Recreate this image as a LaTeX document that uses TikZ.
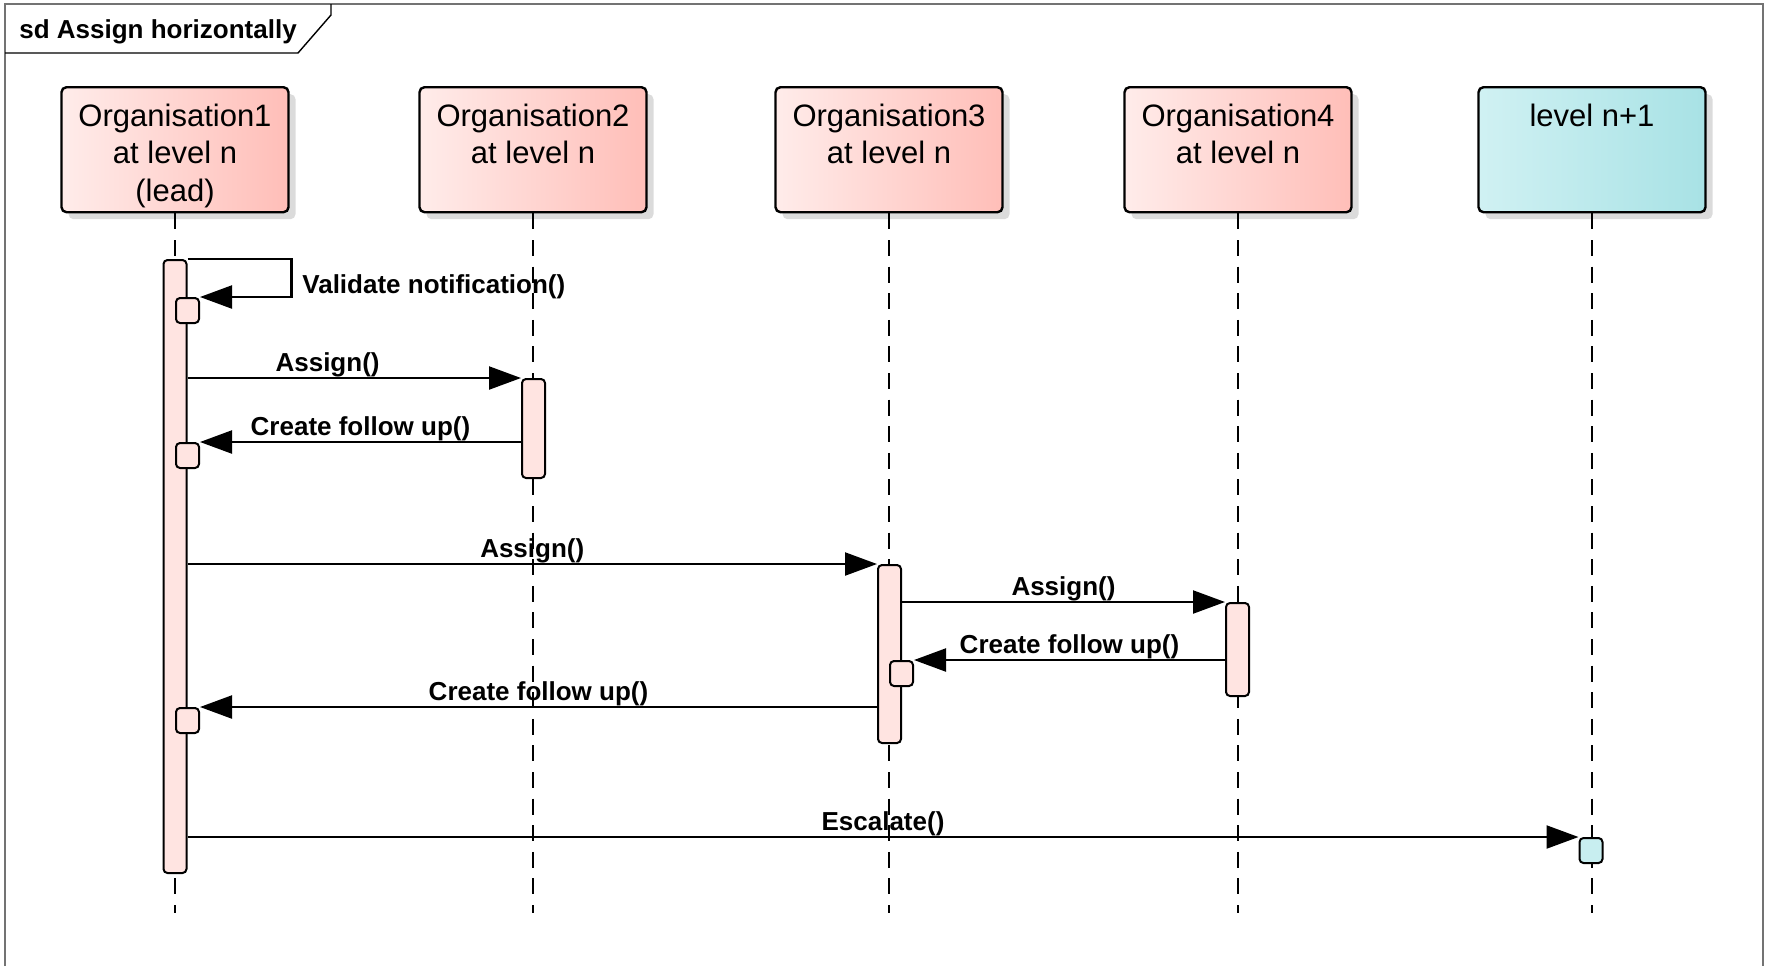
\documentclass[tikz,border=0pt]{standalone}
\usepackage{fontspec}
\setmainfont{Liberation Sans}
\usetikzlibrary{arrows.meta, shadows}

\definecolor{orgleft}{RGB}{255,236,234}
\definecolor{orgright}{RGB}{255,190,184}
\definecolor{lvlleft}{RGB}{208,241,243}
\definecolor{lvlright}{RGB}{168,226,229}
\definecolor{barpink}{RGB}{255,228,225}
\definecolor{barcyan}{RGB}{200,238,240}

% header text, set from the top of the box
\newcommand{\headtext}[1]{\parbox[c][62.5pt][t]{113.5pt}{\centering\rule{0pt}{19.5pt}#1}}

\begin{document}
\begin{tikzpicture}[
  x=0.5pt, y=-0.5pt,
  every node/.style={font=\fontsize{13pt}{15pt}\selectfont\bfseries},
  head/.style={draw, line width=1.2pt, rounded corners=2.5pt, inner sep=0pt, anchor=north,
    font=\fontsize{15.5pt}{18.75pt}\selectfont,
    drop shadow={shadow xshift=3.5pt, shadow yshift=-3.5pt, fill=black!14, opacity=1}},
  orghead/.style={head, left color=orgleft, right color=orgright},
  lvlhead/.style={head, left color=lvlleft, right color=lvlright},
  lifeline/.style={line width=1pt, dash pattern=on 8pt off 5.3pt},
  bar/.style={draw, line width=1pt, fill=barpink, rounded corners=2pt, inner sep=0pt,
    minimum width=11.5pt, anchor=north},
  nested/.style={bar, minimum height=12.5pt},
  msg/.style={-{Triangle[length=16pt, width=11.5pt]}, line width=1.1pt},
  msglabel/.style={anchor=base, yshift=3.4pt},
  freetext/.style={anchor=base west, inner sep=0pt}
]
\useasboundingbox (0,0) rectangle (1772,966);

% frame
\draw[black!55, line width=0.7pt] (5,966) -- (5,4) -- (1763,4) -- (1763,966);
\draw[line width=0.7pt] (5,53) -- (298,53) -- (331,15) -- (331,4);
\node[freetext] (title) at (19,38.5) {sd Assign horizontally};

% lifeline heads
\node[orghead] (org1) at (175,86) {\headtext{Organisation1\\at level n\\(lead)}};
\node[orghead] (org2) at (533,86) {\headtext{Organisation2\\at level n}};
\node[orghead] (org3) at (889,86) {\headtext{Organisation3\\at level n}};
\node[orghead] (org4) at (1238,86) {\headtext{Organisation4\\at level n}};
\node[lvlhead] (lvl) at (1592,86) {\headtext{level n+1}};

\foreach \h in {org1, org2, org3, org4, lvl}
  \draw[lifeline] (\h.south) -- (\h.south |- 0,913);

% activations
\node[bar, minimum height=306.5pt] (act1) at (175,259) {};
\node[bar, minimum height=49.5pt] (act2) at (533.5,378) {};
\node[bar, minimum height=89pt] (act3) at (889.5,564) {};
\node[bar, minimum height=46.5pt] (act4) at (1237.5,602) {};

\node[nested] (val1) at (187.5,297) {};
\node[nested] (back2) at (187.5,442) {};
\node[nested] (back4) at (901.5,660) {};
\node[nested] (back3) at (187.5,707) {};
\node[nested, fill=barcyan] (esc) at (1591,837) {};

% messages
\draw[msg] (act1.north east) -- ++(104,0) |- (val1.north east);
\node[freetext] (valtxt) at (302,293) {Validate notification()};

\draw[msg] (act1.east |- act2.north) -- node[msglabel, pos=.42] {Assign()} (act2.north west);
\draw[msg] (act2.west |- back2.north) -- node[msglabel] {Create follow up()} (back2.north east);

\draw[msg] (act1.east |- act3.north) -- node[msglabel] {Assign()} (act3.north west);
\draw[msg] (act3.east |- act4.north) -- node[msglabel] {Assign()} (act4.north west);
\draw[msg] (act4.west |- back4.north) -- node[msglabel] {Create follow up()} (back4.north east);
\draw[msg] (act3.west |- back3.north) -- node[msglabel] {Create follow up()} (back3.north east);

\draw[msg] (act1.east |- esc.north) -- node[msglabel] {Escalate()} (esc.north west);

\end{tikzpicture}
\end{document}
